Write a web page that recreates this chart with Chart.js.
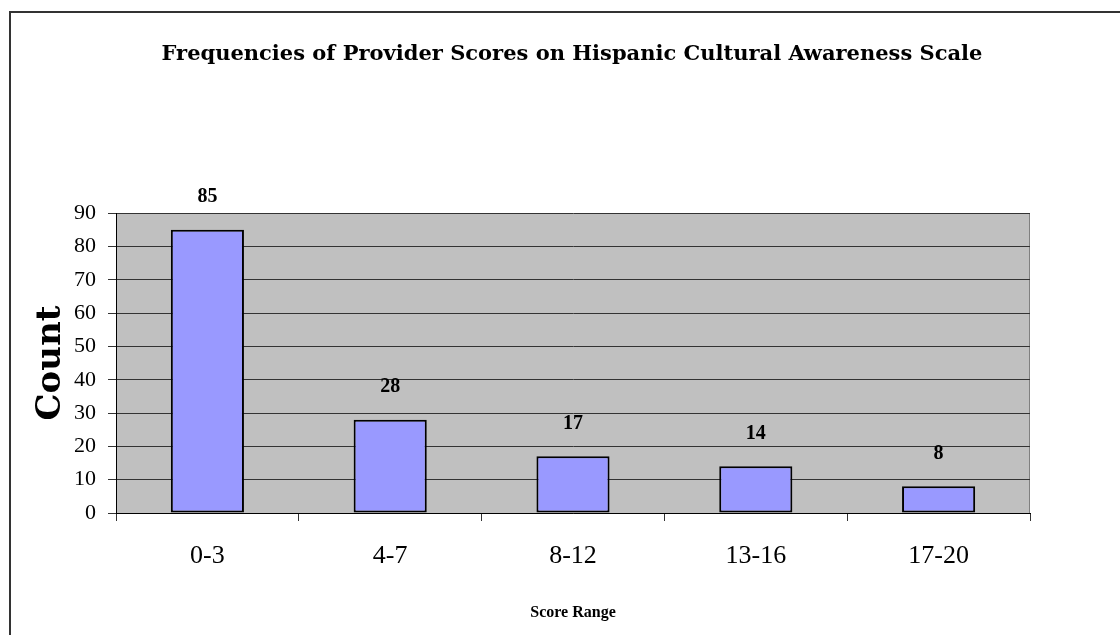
<!DOCTYPE html>
<html>
<head>
<meta charset="utf-8">
<script src="https://cdn.jsdelivr.net/npm/chart.js@4"></script>
<style>
    html, body { margin: 0; padding: 0; background: #fff; overflow: hidden; }
    #wrap { position: relative; width: 1120px; height: 635px; }
    #frame {
        position: absolute; left: 9px; top: 11px; width: 1200px; height: 700px;
        border: 2px solid #333; box-sizing: border-box;
    }
    canvas { position: absolute; left: 0; top: 0; }
</style>
</head>
<body>
<div id="wrap">
    <div id="frame"></div>
    <canvas id="freqChart" width="1120" height="635"></canvas>
</div>
<script>
// Chart data
const scoreRanges = ['0-3', '4-7', '8-12', '13-16', '17-20'];
const counts = [85, 28, 17, 14, 8];
const yTicks = [0, 10, 20, 30, 40, 50, 60, 70, 80, 90];

const serif = "'Liberation Serif', 'DejaVu Serif', serif";
const slab = "'DejaVu Serif', serif";

// Gray plot background with a gray right edge
const plotBackground = {
    id: 'plotBackground',
    beforeDraw(chart) {
        const { ctx, chartArea: a } = chart;
        ctx.save();
        ctx.fillStyle = '#c0c0c0';
        ctx.fillRect(a.left, a.top, a.right - a.left, a.bottom - a.top);
        ctx.strokeStyle = '#808080';
        ctx.lineWidth = 1;
        ctx.beginPath();
        ctx.moveTo(a.right - 0.5, a.top);
        ctx.lineTo(a.right - 0.5, a.bottom);
        ctx.stroke();
        ctx.restore();
    }
};

// Value labels above each bar
const valueLabels = {
    id: 'valueLabels',
    afterDatasetsDraw(chart) {
        const { ctx } = chart;
        const meta = chart.getDatasetMeta(0);
        ctx.save();
        ctx.font = 'bold 20px ' + serif;
        ctx.fillStyle = '#000';
        ctx.textAlign = 'center';
        ctx.textBaseline = 'middle';
        meta.data.forEach((bar, i) => {
            ctx.fillText(String(counts[i]), bar.x, bar.y - 33);
        });
        ctx.restore();
    }
};

new Chart(document.getElementById('freqChart').getContext('2d'), {
    type: 'bar',
    data: {
        labels: scoreRanges,
        datasets: [{
            data: counts,
            backgroundColor: '#9999ff',
            borderColor: '#000000',
            borderWidth: 2,
            borderSkipped: false,
            barPercentage: 0.4,
            categoryPercentage: 1.0
        }]
    },
    options: {
        responsive: false,
        animation: false,
        layout: { padding: { left: 24, right: 0, top: 0, bottom: 0 } },
        plugins: {
            legend: { display: false },
            tooltip: { enabled: false },
            title: {
                display: true,
                text: 'Frequencies of Provider Scores on Hispanic Cultural Awareness Scale',
                color: '#000',
                font: { family: slab, size: 21, weight: 'bold' },
                padding: { top: 42, bottom: 146 }
            }
        },
        scales: {
            x: {
                offset: true,
                grid: {
                    display: true,
                    offset: true,
                    drawOnChartArea: false,
                    drawTicks: true,
                    tickLength: 8,
                    color: '#333'
                },
                border: { display: true, color: '#000', width: 1 },
                ticks: {
                    color: '#000',
                    font: { family: serif, size: 26 },
                    padding: 20,
                    maxRotation: 0
                },
                title: {
                    display: true,
                    text: 'Score Range',
                    color: '#000',
                    font: { family: serif, size: 16, weight: 'bold' },
                    padding: { top: 0, bottom: 13 }
                },
                afterFit(scale) { scale.height = 122; }
            },
            y: {
                min: 0,
                max: 90,
                afterBuildTicks(scale) { scale.ticks = yTicks.map(v => ({ value: v })); },
                grid: {
                    color: '#333',
                    lineWidth: 1,
                    drawTicks: true,
                    tickLength: 8
                },
                border: { display: true, color: '#000', width: 1 },
                ticks: {
                    color: '#000',
                    font: { family: serif, size: 22 },
                    padding: 12
                },
                title: {
                    display: true,
                    text: 'Count',
                    color: '#000',
                    font: { family: slab, size: 34, weight: 'bold' },
                    padding: { top: 7, bottom: 0 }
                },
                afterFit(scale) { scale.width = 92; }
            },
            // empty right-hand scale, keeps the gap right of the plot
            yGap: {
                position: 'right',
                display: true,
                grid: { display: false },
                border: { display: false },
                ticks: { display: false },
                afterFit(scale) { scale.width = 90; }
            }
        }
    },
    plugins: [plotBackground, valueLabels]
});
</script>
</body>
</html>
